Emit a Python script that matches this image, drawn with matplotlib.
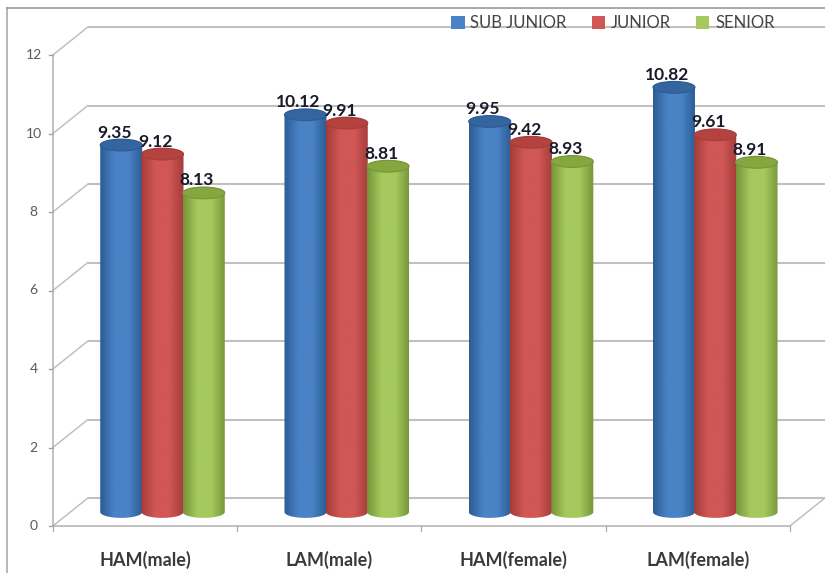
import numpy as np
import matplotlib
matplotlib.use('Agg')
import matplotlib.pyplot as plt
from matplotlib.colors import LinearSegmentedColormap
from matplotlib.patches import Ellipse, Patch, PathPatch
from matplotlib.path import Path

# 数据
categories = ['HAM(male)', 'LAM(male)', 'HAM(female)', 'LAM(female)']
series_names = ['SUB JUNIOR', 'JUNIOR', 'SENIOR']
sub_junior = [9.35, 10.12, 9.95, 10.82]
junior = [9.12, 9.91, 9.42, 9.61]
senior = [8.13, 8.81, 8.93, 8.91]
y_ticks = [0, 2, 4, 6, 8, 10, 12]

# 柱子的渐变色: 边缘, 高光, 顶面
blue = ('#2b5c94', '#4a82c6', '#34659f')
red = ('#a53c3a', '#d05755', '#b4423f')
green = ('#76953a', '#a6c95e', '#86a63f')

# 三维效果参数 (数据单位)
depth_x = 0.19
depth_y = 0.713
bar_step = 0.224
bar_half = 0.114
cap_half = 0.15
grid_color = '#c0c0c0'

plt.rcParams['font.family'] = 'Lato'

fig = plt.figure(figsize=(8.25, 5.73), dpi=100)
ax = fig.add_axes([0, 0, 1, 1])
ax.axis('off')


def draw_cylinder(x, value, colors, z):
    # 圆柱侧面: 先画渐变图, 再用轮廓裁剪
    base = depth_y / 2
    top = base + value
    t = np.linspace(np.pi, 2 * np.pi, 40)
    px = x + bar_half * np.cos(t)
    py = base + cap_half * np.sin(t)
    t2 = np.linspace(0, np.pi, 40)
    qx = x + bar_half * np.cos(t2)
    qy = top + cap_half * np.sin(t2)
    outline = np.vstack([np.column_stack([px, py]), np.column_stack([qx, qy])])
    patch = PathPatch(Path(np.vstack([outline, outline[0]])), facecolor='none',
                      edgecolor='none', zorder=z)
    ax.add_patch(patch)
    cmap = LinearSegmentedColormap.from_list('c', [colors[0], colors[1], colors[1], colors[0]])
    grad = np.linspace(0, 1, 64).reshape(1, -1)
    im = ax.imshow(grad, cmap=cmap, aspect='auto', interpolation='bilinear', zorder=z,
                   extent=(x - bar_half, x + bar_half, base - cap_half, top + cap_half))
    im.set_clip_path(patch)
    ax.add_patch(Ellipse((x, top), 2 * bar_half, 2 * cap_half, facecolor=colors[2],
                         edgecolor=colors[0], linewidth=0.8, zorder=z + 0.5))


# 背景墙和网格线
n = len(categories)
left = -0.5
right = n - 0.5
for v in y_ticks:
    ax.plot([left + depth_x, right + depth_x + 0.2], [v + depth_y, v + depth_y],
            color=grid_color, lw=1.5, zorder=1, solid_capstyle='butt')
    ax.plot([left, left + depth_x], [v, v + depth_y], color=grid_color, lw=1.1, zorder=1)
    ax.plot([left - 0.02, left], [v, v], color='#999999', lw=0.9, zorder=1)
    ax.text(left - 0.105, v, str(v), ha='center', va='center', fontsize=10,
            color='#5a5a5a')

# 左侧竖轴和底面
ax.plot([left, left], [0, 12], color='#b0b0b0', lw=1.1, zorder=1)
ax.plot([left, right], [0, 0], color='#b0b0b0', lw=1.1, zorder=1)
ax.plot([right, right + depth_x], [0, depth_y], color=grid_color, lw=1.1, zorder=1)
for i in range(n + 1):
    ax.plot([left + i, left + i], [0, -0.12], color='#aaaaaa', lw=0.9, zorder=1)

# 圆柱和数值标签
all_series = [sub_junior, junior, senior]
all_colors = [blue, red, green]
z = 3
for s, (values, colors) in enumerate(zip(all_series, all_colors)):
    for i, v in enumerate(values):
        x = i + depth_x / 2 + (s - 1) * bar_step
        draw_cylinder(x, v, colors, z)
        z += 1
        ax.annotate(f'{v:.2f}', (x, v + depth_y / 2), xytext=(-5, 9),
                    textcoords='offset points', ha='center', va='center',
                    fontsize=12.5, fontweight='bold', color='#1a1a2a', zorder=50)

# 分类标签
for i, name in enumerate(categories):
    ax.text(i, -0.87, name, ha='center', va='center', fontsize=13, fontweight='bold',
            color='#3a3a3a')

# 外框
ax.plot([-0.747, -0.747], [-1.3, 13.2], color='#aaaaaa', lw=1.2, zorder=1)
ax.plot([-0.747, 3.9], [13.2, 13.2], color='#999999', lw=1.2, zorder=1)

handles = [Patch(facecolor=c[1], edgecolor='none', label=name)
           for c, name in zip(all_colors, series_names)]
ax.legend(handles=handles, ncol=3, frameon=False, loc='center', bbox_to_anchor=(0.743, 0.96),
          prop={'family': 'Lato', 'size': 12}, labelcolor='#444444',
          handlelength=0.8, handleheight=0.8, handletextpad=0.35, columnspacing=1.5)

ax.set_xlim(-145 / 184.25, 680 / 184.25)
ax.set_ylim(-47 / 39.25, 526 / 39.25)

fig.savefig('out.png', dpi=100)
